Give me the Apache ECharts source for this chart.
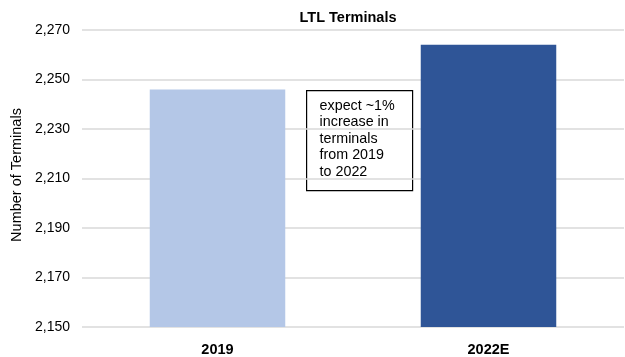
<!DOCTYPE html>
<html>
<head>
<meta charset="utf-8">
<script src="https://cdn.jsdelivr.net/npm/echarts@6/dist/echarts.min.js"></script>
<style>
  html, body { margin: 0; padding: 0; background: #fff; }
  #chart { width: 625px; height: 357px; }
</style>
</head>
<body>
<div id="chart"></div>
<script>
// Terminal counts by year
const categories = ['2019', '2022E'];
const terminals = [2246, 2264];
const barColors = ['#b4c7e7', '#2f5597'];
const noteLines = ['expect ~1%', 'increase in', 'terminals', 'from 2019', 'to 2022'];

const chart = echarts.init(document.getElementById('chart'));
chart.setOption({
  animation: false,
  textStyle: { fontFamily: 'Liberation Sans, Arial, sans-serif' },
  title: {
    text: 'LTL Terminals',
    left: 343,
    top: 5,
    textAlign: 'center',
    textStyle: { fontSize: 14.5, fontWeight: 'bold', color: '#000' }
  },
  grid: { left: 82, right: 1, top: 30, bottom: 27 },
  xAxis: {
    type: 'category',
    data: categories,
    axisLine: { show: false },
    axisTick: { show: false },
    axisLabel: { fontSize: 14.5, fontWeight: 'bold', color: '#000', margin: 15 }
  },
  yAxis: {
    type: 'value',
    min: 2150,
    max: 2270,
    interval: 20,
    name: 'Number of Terminals',
    nameLocation: 'middle',
    nameGap: 58,
    nameTextStyle: { fontSize: 14.5, color: '#000', padding: [0, 0, 0, 7] },
    axisLabel: {
      fontSize: 14, color: '#000', margin: 12,
      formatter: v => v.toLocaleString('en-US')
    },
    splitLine: { lineStyle: { color: '#d9d9d9', width: 1.5 } }
  },
  series: [{
    type: 'bar',
    barWidth: '50%',
    data: terminals.map((v, i) => ({ value: v, itemStyle: { color: barColors[i] } }))
  }],
  graphic: [{
    type: 'group',
    left: 306,
    top: 90,
    children: [
      {
        type: 'rect',
        shape: { x: 0, y: 0, width: 106, height: 100 },
        style: { fill: '#fff', stroke: '#000', lineWidth: 1.2 }
      },
      {
        type: 'text',
        x: 13,
        y: 7,
        style: {
          text: noteLines.join('\n'),
          font: '14.3px Liberation Sans, Arial, sans-serif',
          lineHeight: 16.5,
          fill: '#000'
        }
      }
    ]
  }]
});
</script>
</body>
</html>
